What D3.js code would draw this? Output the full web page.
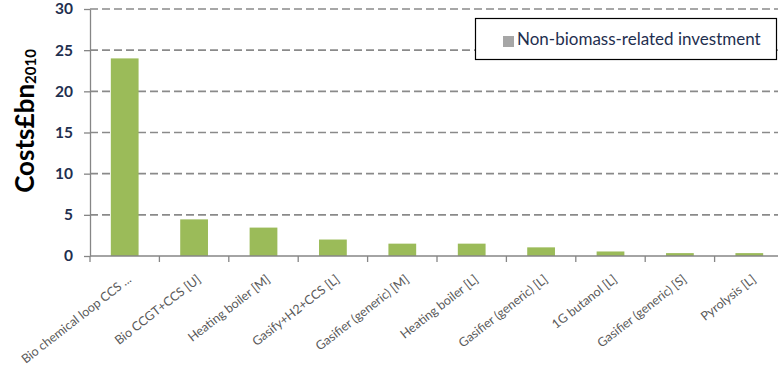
<!DOCTYPE html>
<html>
<head>
<meta charset="utf-8">
<script src="https://cdn.jsdelivr.net/npm/d3@7/dist/d3.min.js"></script>
<style>
  html, body { margin: 0; padding: 0; background: #fff; }
  svg { display: block; font-family: Lato, "Open Sans", sans-serif; }
</style>
</head>
<body>
<svg id="chart" width="778" height="371"></svg>
<script>
// Technology categories (x axis)
const categories = [
  "Bio chemical loop CCS ...",
  "Bio CCGT+CCS [U]",
  "Heating boiler [M]",
  "Gasify+H2+CCS [L]",
  "Gasifier (generic) [M]",
  "Heating boiler [L]",
  "Gasifier (generic) [L]",
  "1G butanol [L]",
  "Gasifier (generic) [S]",
  "Pyrolysis [L]"
];
// Investment cost, £bn (2010)
const investment = [24.0, 4.45, 3.45, 2.0, 1.5, 1.5, 1.05, 0.55, 0.35, 0.35];
const yTicks = [0, 5, 10, 15, 20, 25, 30];
const seriesName = "Non-biomass-related investment";

const svg = d3.select("#chart");
const plotLeft = 90, plotRight = 784, plotTop = 9, plotBottom = 256;

const x = d3.scaleBand().domain(categories).range([plotLeft, plotRight]).paddingInner(0.6).paddingOuter(0.3);
const y = d3.scaleLinear().domain([0, 30]).range([plotBottom, plotTop]);
const step = x.step();

// dashed horizontal gridlines
svg.append("g").selectAll("line")
  .data(yTicks.filter(d => d > 0))
  .join("line")
  .attr("x1", plotLeft).attr("x2", 778)
  .attr("y1", d => y(d)).attr("y2", d => y(d))
  .attr("stroke", "#8a8a8a").attr("stroke-width", 1.6)
  .attr("stroke-dasharray", "8,4");

// bars
svg.append("g").selectAll("rect")
  .data(categories.map((c, i) => ({ c, v: investment[i] })))
  .join("rect")
  .attr("x", d => x(d.c))
  .attr("width", x.bandwidth())
  .attr("y", d => y(d.v))
  .attr("height", d => y(0) - y(d.v))
  .attr("fill", "#9bbb59");

// y axis
const yAxis = svg.append("g")
  .attr("transform", `translate(${plotLeft},0)`)
  .call(d3.axisLeft(y).tickValues(yTicks).tickSize(6).tickPadding(11).tickSizeOuter(0));
yAxis.select(".domain").attr("stroke", "#868686").attr("stroke-width", 1.3);
yAxis.selectAll(".tick line").attr("stroke", "#868686").attr("stroke-width", 1.3);
yAxis.selectAll(".tick text")
  .attr("fill", "#1f2f4f").attr("font-size", 15.5).attr("font-weight", 700)
  .attr("font-family", "Lato, sans-serif");

// x axis with ticks at category boundaries
const xg = svg.append("g");
xg.append("line")
  .attr("x1", plotLeft).attr("x2", 778).attr("y1", plotBottom).attr("y2", plotBottom)
  .attr("stroke", "#868686").attr("stroke-width", 1.3);
xg.selectAll("line.tk")
  .data(categories)
  .join("line").attr("class", "tk")
  .attr("x1", d => x(d) + x.bandwidth() / 2 - step / 2)
  .attr("x2", d => x(d) + x.bandwidth() / 2 - step / 2)
  .attr("y1", plotBottom).attr("y2", plotBottom + 6)
  .attr("stroke", "#868686").attr("stroke-width", 1.3);

// rotated category labels
xg.selectAll("text")
  .data(categories)
  .join("text")
  .attr("transform", d => `translate(${x(d) + x.bandwidth() / 2 + 2},${plotBottom + 18}) rotate(-38)`)
  .attr("text-anchor", "end")
  .attr("dy", "0.7em")
  .attr("font-size", 12.5)
  .attr("fill", "#595959")
  .text(d => d);

// y axis title
const title = svg.append("text")
  .attr("transform", "translate(34,121) rotate(-90)")
  .attr("text-anchor", "middle")
  .attr("font-size", 26).attr("font-weight", 700).attr("fill", "#000");
title.append("tspan").text("Costs£bn");
title.append("tspan").attr("font-size", 15).attr("dy", 2).text("2010");

// legend
const lg = svg.append("g");
lg.append("rect")
  .attr("x", 475.5).attr("y", 18.5).attr("width", 301).attr("height", 41)
  .attr("fill", "#fff").attr("stroke", "#000").attr("stroke-width", 1.2);
lg.append("rect")
  .attr("x", 503).attr("y", 36).attr("width", 11).attr("height", 11)
  .attr("fill", "#a6a6a6");
lg.append("text")
  .attr("x", 517).attr("y", 45)
  .attr("font-size", 17).attr("fill", "#1f2f4f")
  .text(seriesName);
</script>
</body>
</html>
